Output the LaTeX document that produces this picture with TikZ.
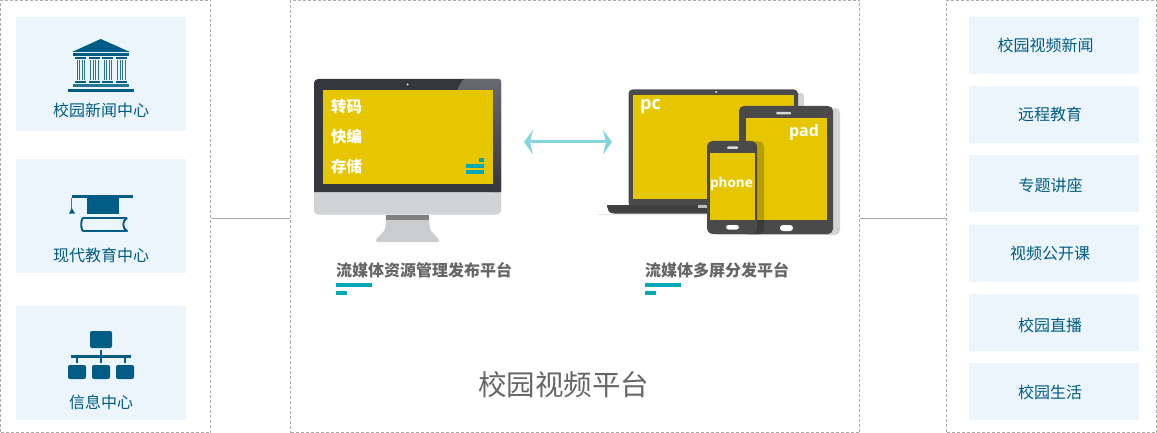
\documentclass[tikz,border=0pt]{standalone}
\usepackage{fontspec}
\setmainfont{Noto Sans CJK SC}
\newfontfamily\latinfont{Open Sans}
\usetikzlibrary{arrows.meta}
\definecolor{boxblue}{HTML}{ECF5FB}
\definecolor{navy}{HTML}{005C84}
\definecolor{dashgrey}{HTML}{ABABAB}
\definecolor{screenyellow}{HTML}{E6C600}
\definecolor{teal}{HTML}{00A9B5}
\definecolor{arrowcyan}{HTML}{84D6DC}
\definecolor{bezel}{HTML}{34383D}
\definecolor{chingrey}{HTML}{D1D2D4}
\definecolor{standgrey}{HTML}{CBCCCE}
\definecolor{tabletgrey}{HTML}{4A4A4A}
\definecolor{captiongrey}{HTML}{666666}
\tikzset{
  panel/.style={draw=dashgrey,dashed,dash pattern=on 3pt off 2pt,line width=0.8pt,inner sep=0pt,minimum width=#1,minimum height=432pt},
  tile/.style={fill=boxblue,inner sep=0pt,minimum width=170pt,minimum height=#1},
  tilelabel/.style={text=navy,font=\fontsize{16}{16}\selectfont,inner sep=0pt},
  caption/.style={text=captiongrey,font=\bfseries\fontsize{16}{16}\selectfont,inner sep=0pt,anchor=west},
  onscreen/.style={text=white,font=\bfseries\fontsize{15.5}{15.5}\selectfont,inner sep=0pt},
  link/.style={draw=dashgrey,line width=0.9pt}
}
\begin{document}
\begin{tikzpicture}[x=1pt,y=-1pt]
  \useasboundingbox (0,0) rectangle (1157,433);
  % The three panels
  \node[panel=210pt] (sources) at (105.5,216.5) {};
  \node[panel=569pt] (platform) at (575,216.5) {};
  \node[panel=210pt] (outlets) at (1051.5,216.5) {};
  \coordinate (linkrow) at (0,218);
  \draw[link] (sources.east |- linkrow) -- (platform.west |- linkrow);
  \draw[link] (platform.east |- linkrow) -- (outlets.west |- linkrow);
  % The left tiles
  \foreach \name/\midy/\laby/\txt in {news/74/110.5/校园新闻中心,modern/216/255/现代教育中心,info/363/402/信息中心}
  {
    \node[tile=114pt] (\name) at (101,\midy) {};
    \node[tilelabel] (\name label) at (101,\laby) {\txt};
  }
  % The right tiles
  \foreach \name/\midy/\laby/\labx/\txt in {r1/45.5/45.5/1045.5/校园视频新闻,r2/114.5/114.5/1050/远程教育,r3/183.5/185/1050.5/专题讲座,r4/253.5/253/1050/视频公开课,r5/322.5/325/1050/校园直播,r6/391.5/392/1050/校园生活}
  {
    \node[tile=57pt] (\name) at (1054,\midy) {};
    \node[tilelabel] (\name label) at (\labx,\laby) {\txt};
  }
  % The temple icon
  \fill[navy] (72,52) -- (100.7,39) -- (130,52) -- cycle;
  \fill[navy] (73,53) rectangle (129,56);
  \foreach \colx in {75,88.5,102,115.5}
  {
    \fill[navy] (\colx,57) rectangle ++(11,2);
    \fill[navy] (\colx,81) rectangle ++(11,2);
    \foreach \barx in {1.5,4,6.5,9}
      \fill[navy!85] (\colx+\barx,60) rectangle ++(1.2,20.5);
  }
  \fill[navy!85] (73,84) rectangle (129,87.5);
  \fill[navy] (68,89) rectangle (134,92);
  % The cap and book icon
  \fill[navy] (71.5,195) rectangle (133,198);
  \fill[navy] (87,198) rectangle (119,214);
  \draw[navy!80,line width=1pt] (71.7,198) -- (71.7,209);
  \fill[navy] (69,213.5) -- (71.8,208) -- (75,213.5) -- cycle;
  \draw[navy,line width=1.9pt,line join=round] (127,218) -- (83.5,218) .. controls (80.5,218) and (80.5,231) .. (83.5,231) -- (127,231) .. controls (122,228) and (122,221) .. (127,218);
  % The tree icon
  \fill[navy,rounded corners=2pt] (90,331) rectangle (112,348);
  \fill[navy] (100,350) rectangle (102,363);
  \fill[navy] (71,355) rectangle (131,358);
  \fill[navy] (76,358) rectangle (78,363);
  \fill[navy] (124,358) rectangle (126,363);
  \foreach \leafx in {68,92,116}
    \fill[navy,rounded corners=2pt] (\leafx,365) rectangle ++(18,14);
  % The monitor
  \fill[chingrey,rounded corners=4pt] (314,150) rectangle (501,214.5);
  \fill[bezel] (314,192) [rounded corners=4pt] -- (314,79) -- (501,79) [sharp corners] -- (501,192) -- cycle;
  \shade[top color=bezel!75!white,bottom color=bezel,rounded corners=2pt] (457,90) -- (463,79) -- (501,79) -- (501,192) -- (492,192) -- (492,90) -- cycle;
  \fill[white] (407.5,84.5) circle (1pt);
  \fill[screenyellow] (323,90) rectangle (492.5,184);
  \fill[standgrey,rounded corners=1.5pt] (386,219) -- (385,230) -- (375.5,240) -- (376,242) -- (439,242) -- (439.5,240) -- (430,230) -- (429,219) -- cycle;
  \fill[white!50!black] (386,215) rectangle (429,219.5);
  \node[onscreen] (transcode) at (346.5,106.5) {转码};
  \node[onscreen] (quickedit) at (346.5,136.5) {快编};
  \node[onscreen] (storage) at (346.5,166.5) {存储};
  \fill[teal] (479,158) rectangle (484,162);
  \fill[teal] (466,164) rectangle (484,168);
  \fill[teal] (466,170) rectangle (484,174);
  % The link between the two screens
  \coordinate (pubend) at (524,142);
  \coordinate (devend) at (612,142);
  \draw[arrowcyan,line width=3pt,{Stealth[length=9pt,width=25pt,inset=3pt]}-{Stealth[length=9pt,width=25pt,inset=3pt]}] (pubend) -- (devend);
  % The laptop
  \draw[white!90!black,line width=1.5pt] (598,214.5) -- (840,214.5);
  \fill[white!83!black,rounded corners=3pt] (640,93) rectangle (804,206);
  \fill[tabletgrey,rounded corners=4pt] (628.5,207) -- (628.5,89.5) -- (798,89.5) -- (798,207) -- cycle;
  \fill[white!25!black,rounded corners=1pt] (606.5,205) -- (740,205) -- (740,213.5) -- (613,213.5) -- (609,212) -- cycle;
  \fill[white!75!black] (698,205) rectangle (708,207.5);
  \fill[white] (716,92) circle (1pt);
  \fill[screenyellow] (633,95) rectangle (794,199);
  \node[onscreen,font=\latinfont\bfseries\fontsize{18}{18}\selectfont] (pclabel) at (650.5,106.5) {pc};
  % The tablet
  \fill[white!83!black,rounded corners=5pt] (745,108) rectangle (840,235);
  \fill[tabletgrey,rounded corners=5pt] (739,106) rectangle (833,234);
  \fill[screenyellow] (745.5,118) rectangle (826.5,220);
  \fill[white!85!black,rounded corners=1pt] (776,112) rectangle (791,114.5);
  \fill[white,rounded corners=3pt] (780,225) rectangle (793,231);
  \node[onscreen,font=\latinfont\bfseries\fontsize{16}{16}\selectfont] (padlabel) at (804,132.5) {pad};
  % The phone
  \fill[black,opacity=0.2,rounded corners=5pt] (712,141.5) rectangle (764,234.5);
  \fill[tabletgrey,rounded corners=6pt] (707,141) rectangle (757,234);
  \fill[screenyellow] (709.5,153.5) rectangle (755,220);
  \fill[white!85!black,rounded corners=1pt] (727,146.5) rectangle (738,149);
  \fill[white,rounded corners=2.5pt] (726,225) rectangle (739,229.5);
  \node[onscreen,font=\latinfont\bfseries\fontsize{13.5}{13.5}\selectfont] (phonelabel) at (731.5,183.5) {phone};
  % The captions
  \node[caption] (pubcaption) at (336,270.5) {流媒体资源管理发布平台};
  \fill[teal] (336,283) rectangle (372,287);
  \fill[teal] (336,291) rectangle (347,295);
  \node[caption] (devcaption) at (645,270.5) {流媒体多屏分发平台};
  \fill[teal] (645,283) rectangle (681,287);
  \fill[teal] (645,291) rectangle (656,295);
  \node[text=captiongrey,font=\fontsize{28.5}{28.5}\selectfont,inner sep=0pt] (title) at (563.5,385) {校园视频平台};
\end{tikzpicture}
\end{document}
